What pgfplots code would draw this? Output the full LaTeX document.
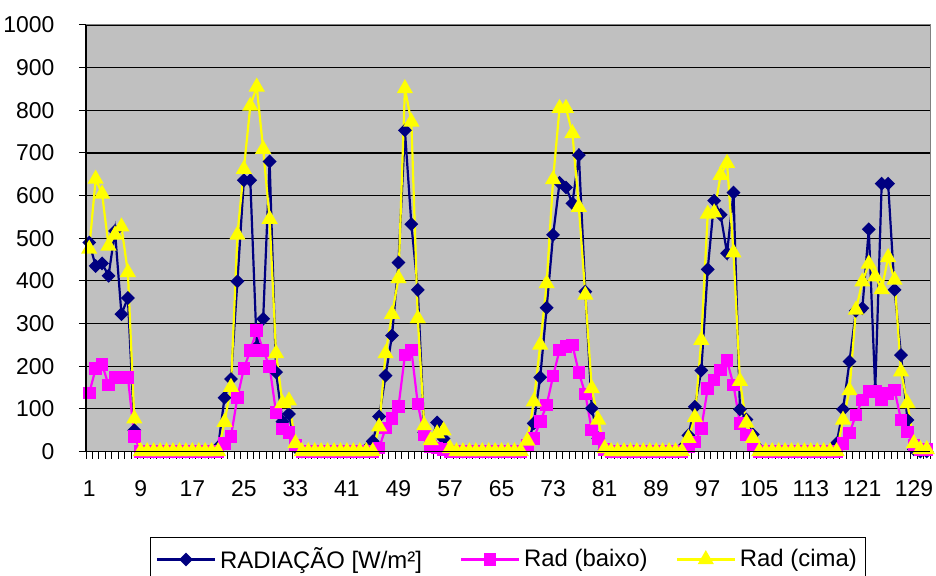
\documentclass[border=0pt]{standalone}
\usepackage{pgfplots}
\pgfplotsset{compat=1.18}
\usepackage{pgfplotstable}
\usepackage{fontspec}
\setmainfont{Liberation Sans}
\definecolor{navyc}{RGB}{0,0,128}
\definecolor{magc}{RGB}{255,0,255}
\definecolor{yelc}{RGB}{255,255,0}
\definecolor{bggray}{RGB}{192,192,192}
\definecolor{bordergray}{RGB}{128,128,128}
\pgfplotstableread{
x rad baixo cima
1 490 137 475
2 435 194 639
3 441 204 604
4 412 156 482
5 517 174 508
6 322 174 527
7 360 174 420
8 50 35 77
9 0 0 0
10 0 0 0
11 0 0 0
12 0 0 0
13 0 0 0
14 0 0 0
15 0 0 0
16 0 0 0
17 0 0 0
18 0 0 0
19 0 0 0
20 0 0 0
21 10 0 0
22 126 19 69
23 170 35 151
24 399 127 508
25 636 194 662
26 636 237 810
27 245 283 855
28 311 237 709
29 680 199 545
30 186 91 230
31 70 53 113
32 88 45 119
33 10 14 19
34 0 0 0
35 0 0 0
36 0 0 0
37 0 0 0
38 0 0 0
39 0 0 0
40 0 0 0
41 0 0 0
42 0 0 0
43 0 0 0
44 5 0 0
45 24 0 0
46 82 8 58
47 178 55 230
48 272 78 322
49 443 105 406
50 753 226 851
51 533 238 773
52 379 111 312
53 45 39 61
54 20 12 26
55 68 8 42
56 30 5 49
57 5 0 7
58 0 0 0
59 0 0 0
60 0 0 0
61 0 0 0
62 0 0 0
63 0 0 0
64 0 0 0
65 0 0 0
66 0 0 0
67 0 0 0
68 0 0 0
69 15 15 25
70 66 31 117
71 174 70 250
72 337 109 394
73 508 177 638
74 630 238 805
75 619 246 805
76 582 250 746
77 695 185 573
78 375 135 367
79 101 50 148
80 31 31 74
81 5 5 7
82 0 0 0
83 0 0 0
84 0 0 0
85 0 0 0
86 0 0 0
87 0 0 0
88 0 0 0
89 0 0 0
90 0 0 0
91 0 0 0
92 0 0 0
93 8 0 0
94 38 12 31
95 105 22 80
96 190 54 261
97 427 148 557
98 588 168 560
99 555 191 648
100 465 213 676
101 607 156 466
102 99 66 165
103 75 39 67
104 40 15 31
105 5 0 0
106 0 0 0
107 0 0 0
108 0 0 0
109 0 0 0
110 0 0 0
111 0 0 0
112 0 0 0
113 0 0 0
114 0 0 0
115 0 0 0
116 0 0 0
117 19 0 0
118 99 19 74
119 211 43 143
120 330 86 332
121 336 121 398
122 521 140 440
123 144 140 410
124 628 121 380
125 628 136 455
126 379 144 402
127 226 74 187
128 74 46 113
129 5 15 19
130 0 5 5
131 0 5 5
}\datatable
\begin{document}
\begin{tikzpicture}
\useasboundingbox (0,0) rectangle (468bp,288bp);
\begin{axis}[
  at={(43bp,62.25bp)}, anchor=south west,
  scale only axis, width=422bp, height=213.25bp,
  xmin=0.5, xmax=131.5, ymin=0, ymax=1000,
  clip=false,
  axis background/.style={fill=bggray},
  axis line style={draw=bordergray, line width=0.5bp},
  tick align=outside,
  xtick pos=bottom, ytick pos=left,
  major tick length=3.6bp,
  tick style={black, line width=0.5bp},
  xtick={0.5,1.5,...,131.5},
  xticklabels={},
  extra x ticks={1,9,...,129},
  extra x tick labels={1,9,17,25,33,41,49,57,65,73,81,89,97,105,113,121,129},
  extra x tick style={tick style={draw=none},
    xticklabel style={anchor=north, inner sep=0pt, yshift=-10.9bp}},
  ytick={0,100,...,1000},
  yticklabels={0,100,200,300,400,500,600,700,800,900,1000},
  ymajorgrids,
  grid style={black, line width=0.6bp},
  tick label style={font=\fontsize{11.5}{13}\selectfont},
  y tick label style={anchor=east, inner sep=0pt, xshift=-12bp},
  legend columns=3,
  legend style={at={(0.5004,-0.2005)}, anchor=north, draw=black, line width=0.5bp, fill=white,
    font=\fontsize{12}{14}\selectfont, inner xsep=2.5bp, inner ysep=3bp,
    /tikz/column 2/.style={column sep=17bp},
    /tikz/column 4/.style={column sep=12bp}},
  legend image code/.code={\draw[mark repeat=2,mark phase=2,#1] plot coordinates {(0bp,0bp) (14.5bp,0bp) (29bp,0bp)};},
  after end axis/.code={\draw[black, line width=0.6bp] (rel axis cs:0,1) -- (rel axis cs:0,0) -- (rel axis cs:1,0);},
]
\addplot[navyc, line width=1.1bp, mark=diamond*, mark size=2.7bp, mark options={xscale=1.33, solid}] table[x=x,y=rad]{\datatable};
\addlegendentry{RADIAÇÃO [W/m²]}
\addplot[magc, line width=1.1bp, mark=square*, mark size=2.6bp, mark options={solid}] table[x=x,y=baixo]{\datatable};
\addlegendentry{Rad (baixo)}
\addplot[yelc, line width=1.1bp, mark=triangle*, mark size=3.6bp, mark options={solid}] table[x=x,y=cima]{\datatable};
\addlegendentry{Rad (cima)}
\end{axis}
\end{tikzpicture}
\end{document}
